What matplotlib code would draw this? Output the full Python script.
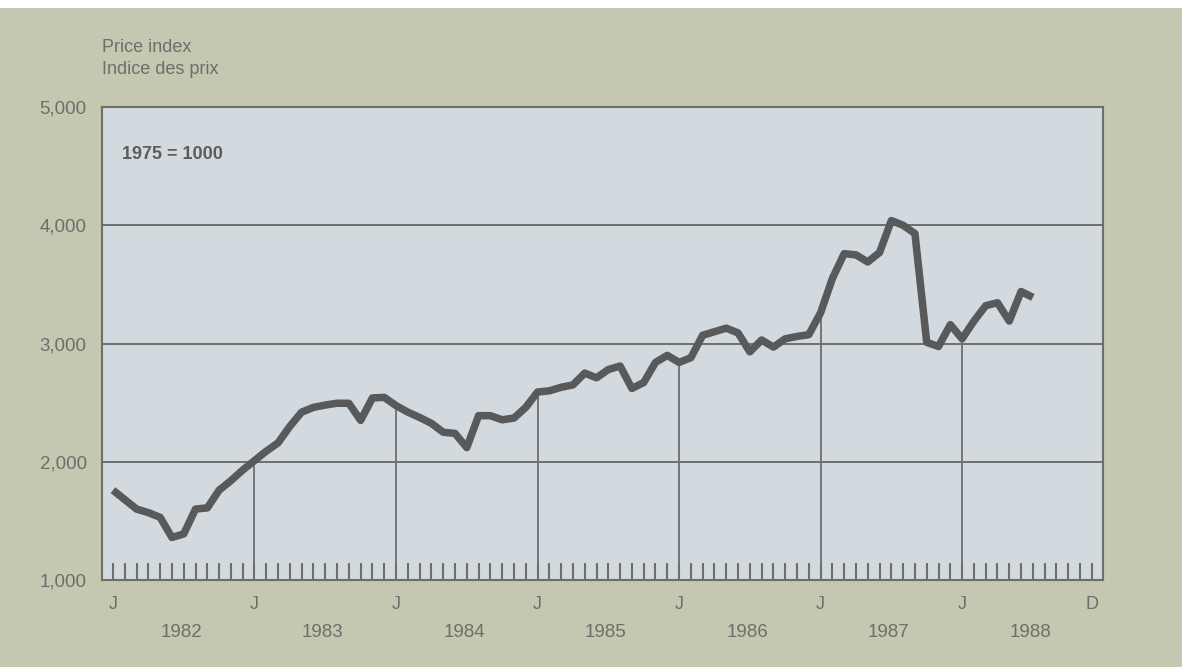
import matplotlib
matplotlib.use("Agg")
import matplotlib.pyplot as plt
from matplotlib.patches import Rectangle

# Monthly price index, Jan 1982 .. Jul 1988 (1975 = 1000)
months = list(range(79))
price_index = [
    1760, 1680, 1600, 1570, 1530, 1360, 1390, 1600, 1610, 1760, 1840, 1930,  # 1982
    2010, 2090, 2160, 2300, 2420, 2460, 2480, 2495, 2495, 2350, 2540, 2545,  # 1983
    2475, 2420, 2375, 2325, 2250, 2240, 2120, 2390, 2390, 2355, 2370, 2460,  # 1984
    2590, 2600, 2630, 2650, 2750, 2710, 2780, 2810, 2620, 2670, 2840, 2900,  # 1985
    2840, 2880, 3070, 3100, 3130, 3090, 2930, 3030, 2970, 3040, 3060, 3075,  # 1986
    3260, 3550, 3760, 3750, 3690, 3770, 4040, 4000, 3930, 3010, 2975, 3160,  # 1987
    3040, 3190, 3320, 3345, 3190, 3440, 3390,                                # 1988
]
years = ["1982", "1983", "1984", "1985", "1986", "1987", "1988"]
y_ticks = [1000, 2000, 3000, 4000, 5000]
y_labels = ["1,000", "2,000", "3,000", "4,000", "5,000"]

bg = "#c5c7b1"
panel = "#d3dadf"
grey = "#6e6e6a"
line_col = "#58595a"

plt.rcParams["font.family"] = ["Liberation Sans", "DejaVu Sans"]

fig = plt.figure(figsize=(11.82, 6.67), dpi=100, facecolor=bg)
# white strip across the top of the scan
fig.patches.append(Rectangle((0, 0.988), 1, 0.012, transform=fig.transFigure,
                             facecolor="white", edgecolor="none"))
ax = fig.add_axes([0.0863, 0.1304, 0.8469, 0.7091], facecolor=panel)

ax.set_xlim(-0.93, 83.95)
ax.set_ylim(1000, 5000)

# horizontal grid lines
for v in y_ticks[1:-1]:
    ax.axhline(v, color=grey, lw=1.4, zorder=1)

# january lines run from the bottom up to the curve
for m in range(12, len(months), 12):
    ax.vlines(m, 1000, price_index[m], color=grey, lw=1.3, zorder=1)

ax.plot(months, price_index, color=line_col, lw=5.4, solid_joinstyle="round",
        solid_capstyle="butt", zorder=3)

for s in ax.spines.values():
    s.set_color(grey)
    s.set_linewidth(1.5)

# monthly ticks inside the bottom edge
ax.set_xticks(range(84))
ax.tick_params(axis="x", direction="in", length=12.5, width=1.5, color=grey,
               labelbottom=False)
ax.set_yticks(y_ticks)
ax.set_yticklabels(y_labels)
ax.tick_params(axis="y", length=0, pad=11, labelsize=13.5, labelcolor=grey)

trans = ax.get_xaxis_transform()
for k, yr in enumerate(years):
    ax.text(12 * k, -0.052, "J", transform=trans, ha="center", va="center",
            fontsize=13, color=grey)
    ax.text(12 * k + 5.8, -0.112, yr, transform=trans, ha="center",
            va="center", fontsize=13.5, color=grey)
ax.text(83, -0.052, "D", transform=trans, ha="center", va="center",
        fontsize=13, color=grey)

fig.text(102 / 1182, 1 - 48 / 667, "Price index", ha="left", va="center",
         fontsize=13, color=grey)
fig.text(102 / 1182, 1 - 70 / 667, "Indice des prix", ha="left", va="center",
         fontsize=13, color=grey)
ax.text(0.02, 0.9, "1975 = 1000", transform=ax.transAxes, ha="left",
        va="center", fontsize=13, fontweight="bold", color="#5c5c5a")

fig.savefig("out.png", dpi=100, facecolor=fig.get_facecolor())
